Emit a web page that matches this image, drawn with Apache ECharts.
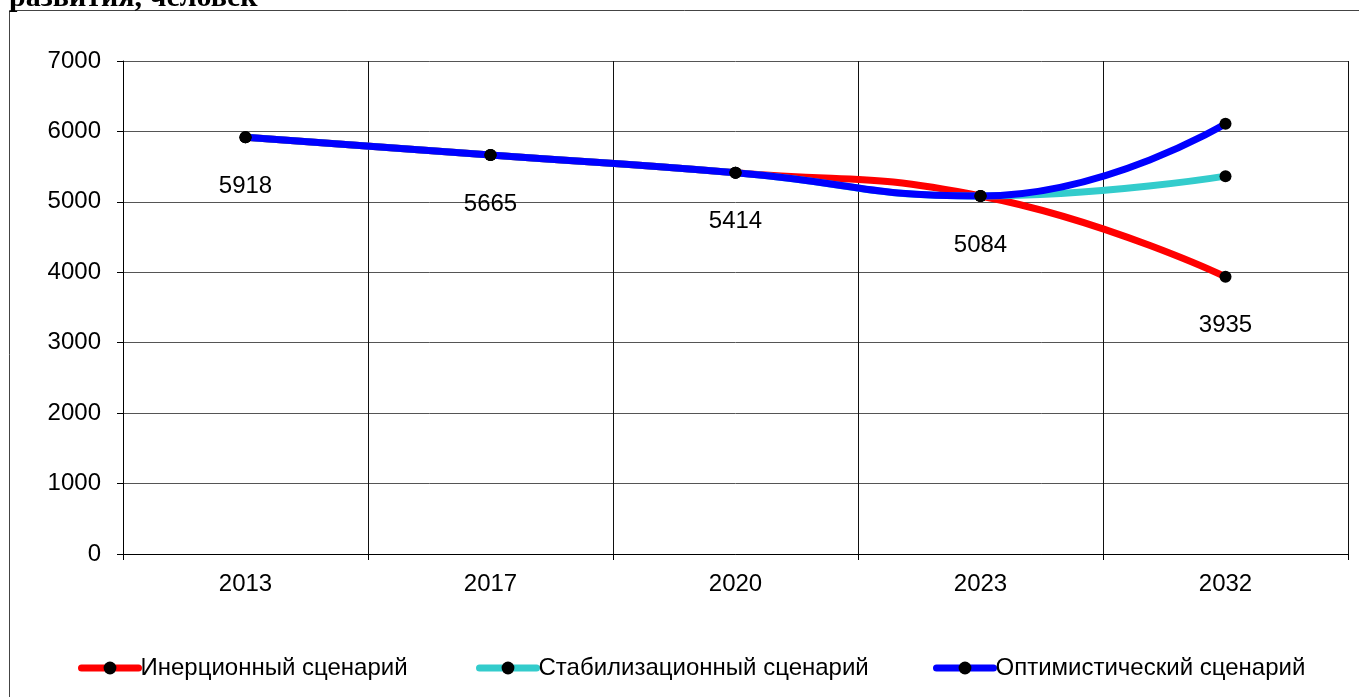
<!DOCTYPE html>
<html>
<head>
<meta charset="utf-8" />
<title>Сценарии развития</title>
<script src="https://cdn.jsdelivr.net/npm/echarts@6/dist/echarts.min.js"></script>
<style>
  html, body { margin: 0; padding: 0; background: #fff; }
  #chart { width: 1359px; height: 697px; }
</style>
</head>
<body>
<div id="chart"></div>
<script>
  // данные графика
  var years = ['2013', '2017', '2020', '2023', '2032'];
  var inertial = [5918, 5665, 5414, 5084, 3935];
  var stabilization = [5918, 5665, 5414, 5084, 5365];
  var optimistic = [5918, 5665, 5414, 5084, 6108];
  var names = ['Инерционный сценарий', 'Стабилизационный сценарий', 'Оптимистический сценарий'];

  var font = 'Arial, "Liberation Sans", sans-serif';

  var myChart = echarts.init(document.getElementById('chart'));

  function makeSeries(name, data, color, showLabel) {
    return {
      name: name,
      type: 'line',
      data: data,
      smooth: 0.5,
      symbol: 'circle',
      symbolSize: 12,
      itemStyle: { color: '#000' },
      lineStyle: { color: color, width: 7 },
      label: {
        show: showLabel,
        position: 'bottom',
        distance: 31,
        color: '#000',
        fontSize: 24,
        fontFamily: font
      },
      emphasis: { disabled: true }
    };
  }

  function makeLegend(name, left) {
    return {
      data: [name],
      left: left,
      top: 656,
      itemWidth: 57,
      itemHeight: 16,
      itemGap: 2,
      padding: 0,
      lineStyle: { width: 7, cap: 'round' },
      textStyle: { color: '#000', fontSize: 24, fontFamily: font, padding: [0, 0, 0, -3] }
    };
  }

  var option = {
    animation: false,
    backgroundColor: '#fff',
    graphic: [
      {
        type: 'rect',
        shape: { x: 9.5, y: 10.5, width: 1400, height: 720 },
        style: { fill: 'none', stroke: '#444', lineWidth: 1 },
        silent: true
      },
      {
        type: 'text',
        x: 9,
        y: 13,
        style: {
          text: 'развития, человек',
          font: 'bold 30px "Liberation Serif", "Times New Roman", serif',
          fill: '#000',
          verticalAlign: 'bottom'
        },
        silent: true
      }
    ],
    grid: { left: 123, right: 11, top: 61, bottom: 143 },
    legend: [
      makeLegend(names[0], 78),
      makeLegend(names[1], 476),
      makeLegend(names[2], 933)
    ],
    xAxis: {
      type: 'category',
      data: years,
      boundaryGap: true,
      axisLine: { lineStyle: { color: '#000', width: 1 } },
      axisTick: { show: true, length: 6, inside: false, lineStyle: { color: '#000' } },
      axisLabel: { color: '#000', fontSize: 24, fontFamily: font, margin: 18 },
      splitLine: { show: true, lineStyle: { color: '#111', width: 1 } }
    },
    yAxis: {
      type: 'value',
      min: 0,
      max: 7000,
      interval: 1000,
      axisLine: { show: true, lineStyle: { color: '#000', width: 1 } },
      axisTick: { show: true, length: 6, lineStyle: { color: '#000' } },
      axisLabel: {
        color: '#000',
        fontSize: 24,
        fontFamily: font,
        margin: 22,
        formatter: function (v) { return String(v); }
      },
      splitLine: { show: true, lineStyle: { color: '#555', width: 1 } }
    },
    series: [
      makeSeries(names[0], inertial, '#ff0000', true),
      makeSeries(names[1], stabilization, '#33cccc', false),
      makeSeries(names[2], optimistic, '#0000ff', false)
    ]
  };

  myChart.setOption(option);
</script>
</body>
</html>
